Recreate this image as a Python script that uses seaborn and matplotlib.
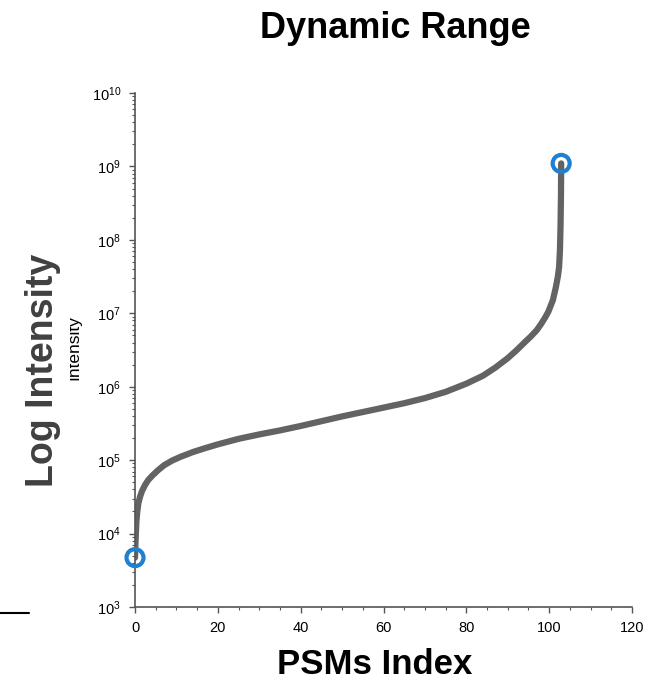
import matplotlib
matplotlib.use("Agg")
import matplotlib.pyplot as plt
import matplotlib.ticker as mticker
import numpy as np
import pandas as pd
import seaborn as sns
from matplotlib.lines import Line2D
from matplotlib.patches import Rectangle

# sorted PSM intensities
psm_index = [0, 0.1, 0.2, 0.35, 0.55, 0.8, 1.2, 1.7, 2.4, 3.2,
             4.2, 5.5, 7, 9, 11, 14, 17, 20, 25, 30,
             35, 40, 45, 50, 55, 60, 65, 70, 75, 80,
             84, 87, 90, 92, 94, 95.5, 97, 98, 99, 99.8,
             100.9, 101.6, 102.1, 102.4, 102.6, 102.75, 102.85, 102.9]
intensity = [4.7e3, 7.1e3, 1.0e4, 1.5e4, 2.0e4, 2.57e4, 3.16e4, 3.8e4, 4.57e4, 5.37e4,
             6.17e4, 7.24e4, 8.51e4, 9.89e4, 1.11e5, 1.29e5, 1.46e5, 1.64e5, 1.95e5, 2.24e5,
             2.54e5, 2.92e5, 3.39e5, 3.94e5, 4.52e5, 5.19e5, 5.96e5, 7.0e5, 8.51e5, 1.10e6,
             1.41e6, 1.82e6, 2.45e6, 3.09e6, 3.98e6, 4.79e6, 5.89e6, 7.08e6, 8.71e6, 1.05e7,
             1.51e7, 2.24e7, 3.16e7, 4.27e7, 7.08e7, 1.58e8, 3.98e8, 1.1e9]
x_ticks = [0, 20, 40, 60, 80, 100, 120]

df = pd.DataFrame({"index": psm_index, "intensity": intensity})
ends = df.iloc[[0, -1]]

sns.set_style("ticks")
plt.rcParams["font.family"] = ["Liberation Sans", "DejaVu Sans"]
plt.rcParams["mathtext.fontset"] = "custom"
plt.rcParams["mathtext.rm"] = "Liberation Sans"
plt.rcParams["mathtext.it"] = "Liberation Sans"
plt.rcParams["text.color"] = "black"
plt.rcParams["xtick.color"] = "black"
plt.rcParams["ytick.color"] = "black"

fig = plt.figure(figsize=(6.51, 6.83), dpi=100)
ax = fig.add_axes([0.2074, 0.1113, 0.7634, 0.7525])

sns.lineplot(data=df, x="index", y="intensity", ax=ax, color="#636363",
             linewidth=4.5, solid_capstyle="round", solid_joinstyle="round")
sns.scatterplot(data=ends, x="index", y="intensity", ax=ax, marker="o", s=150,
                facecolors="none", edgecolor="#1f7fd0", linewidth=3, zorder=5,
                clip_on=False)

ax.set_yscale("log")
ax.set_ylim(1e3, 1e10)
ax.set_xlim(0, 120)
ax.set_xticks(x_ticks)
ax.xaxis.set_minor_locator(mticker.MultipleLocator(5))
ax.yaxis.set_major_locator(mticker.LogLocator(base=10, numticks=20))
ax.yaxis.set_minor_locator(mticker.LogLocator(base=10, subs=np.arange(2, 10), numticks=20))
ax.yaxis.set_major_formatter(mticker.FuncFormatter(lambda v, p: r"$10^{%d}$" % round(np.log10(v))))

for s in ["top", "right"]:
    ax.spines[s].set_visible(False)
for s in ["left", "bottom"]:
    ax.spines[s].set_color("#555555")
    ax.spines[s].set_linewidth(1.2)
ax.tick_params(which="major", length=4, width=1, color="#555555", labelsize=10.5, pad=6)
ax.tick_params(which="minor", length=2, width=0.8, color="#555555")
ax.set_xlabel("")
ax.set_ylabel("")
ax.patch.set_alpha(0)

fig.text(0.607, 0.958, "Dynamic Range", ha="center", va="center",
         fontsize=26, fontweight="bold")
fig.text(0.576, 0.027, "PSMs Index", ha="center", va="center",
         fontsize=25, fontweight="bold")
fig.text(0.066, 0.458, "Log Intensity", ha="center", va="center", rotation=90,
         fontsize=27, fontweight="bold", color="#404040")
fig.text(0.1245, 0.491, "Intensity", ha="right", va="center", rotation=90,
         fontsize=12.5, zorder=3)
# the small label is half hidden behind a white box in the source
fig.add_artist(Rectangle((0.09, 0.40), 0.0175, 0.18, transform=fig.transFigure,
                         facecolor="white", edgecolor="none", zorder=10))
fig.add_artist(Line2D([0, 0.045], [0.103, 0.103], transform=fig.transFigure,
                      color="black", linewidth=1.5))

fig.savefig("out.png", dpi=100)
